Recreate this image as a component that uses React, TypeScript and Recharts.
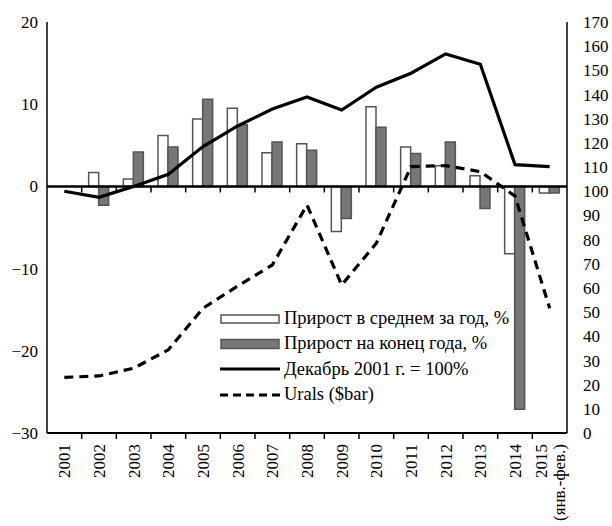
import React from 'react';
import { ComposedChart, Bar, Line, XAxis, YAxis, ReferenceLine, Legend } from 'recharts';

const years = ['2001', '2002', '2003', '2004', '2005', '2006', '2007', '2008', '2009', '2010', '2011', '2012', '2013', '2014', '2015 (янв.-фев.)'];
const avgGrowth = [null, 1.7, 0.9, 6.2, 8.2, 9.5, 4.1, 5.2, -5.5, 9.7, 4.8, 2.5, 1.3, -8.2, -0.8];
const endGrowth = [null, -2.3, 4.2, 4.8, 10.6, 7.5, 5.4, 4.4, -3.9, 7.2, 4.0, 5.4, -2.7, -27.1, -0.8];
const indexDec2001 = [100, 97.5, 102, 107, 118.5, 127, 134, 139, 133.6, 143, 148.8, 156.8, 152.5, 111, 110.2];
const urals = [23, 23.6, 26.8, 34.4, 51.6, 60.8, 69.5, 94.3, 61.2, 78.5, 110.2, 110.6, 108.1, 98, 51.6];
const leftTicks = [-30, -20, -10, 0, 10, 20];
const rightTicks = [0, 10, 20, 30, 40, 50, 60, 70, 80, 90, 100, 110, 120, 130, 140, 150, 160, 170];

const seriesNames = {
  avg: 'Прирост в среднем за год, %',
  end: 'Прирост на конец  года, %',
  idx: 'Декабрь 2001 г. = 100%',
  urals: 'Urals ($bar)',
};

const data = years.map((y, i) => ({
  year: y,
  avg: avgGrowth[i],
  end: endGrowth[i],
  idx: indexDec2001[i],
  urals: urals[i],
}));

const FONT = '"Liberation Serif", "Times New Roman", serif';
const W = 612;
const H = 526;
const LEFT_W = 47;
const RIGHT_W = 45;
const BAND = (W - LEFT_W - RIGHT_W) / years.length;

const fmtMinus = (v: number) => (v < 0 ? '\u2212' + Math.abs(v) : String(v));

const XTick = (props: any) => {
  const { x, y, payload, index } = props;
  const lines = String(payload.value).split(' ');
  const lh = 18;
  return (
    <g transform={`translate(${x},${y})`}>
      {index > 0 && <line x1={-BAND / 2} x2={-BAND / 2} y1={0} y2={6} stroke="#000" strokeWidth={1.5} />}
      <text transform="rotate(-90)" textAnchor="end" fontSize={17} fontFamily={FONT} fill="#000">
        {lines.map((l, i) => (
          <tspan key={i} x={-11} y={(i - (lines.length - 1) / 2) * lh} dy="0.35em">
            {l}
          </tspan>
        ))}
      </text>
    </g>
  );
};

const ZeroLine = (p: any) => {
  const { x1, x2, y1 } = p;
  const n = years.length;
  const w = (x2 - x1) / n;
  return (
    <g>
      <line x1={x1} x2={x2} y1={y1} y2={y1} stroke="#000" strokeWidth={2.5} />
      {years.slice(1).map((_, i) => (
        <line key={i} x1={x1 + w * (i + 1)} x2={x1 + w * (i + 1)} y1={y1} y2={y1 + 6} stroke="#000" strokeWidth={1.5} />
      ))}
    </g>
  );
};

const LegendContent = () => {
  const rows = [
    { key: 'avg', kind: 'rectW' },
    { key: 'end', kind: 'rectG' },
    { key: 'idx', kind: 'solid' },
    { key: 'urals', kind: 'dash' },
  ];
  return (
    <div style={{ fontFamily: FONT, fontSize: 18.5, color: '#000' }}>
      {rows.map((r) => (
        <div key={r.key} style={{ display: 'flex', alignItems: 'center', height: 25.3, whiteSpace: 'nowrap' }}>
          <svg width={62} height={14} style={{ flex: 'none' }}>
            {r.kind === 'rectW' && <rect x={1} y={3} width={58} height={8} fill="#fff" stroke="#555" strokeWidth={1.5} />}
            {r.kind === 'rectG' && <rect x={1} y={2.5} width={58} height={9} fill="#777" stroke="#555" strokeWidth={1.5} />}
            {r.kind === 'solid' && <line x1={0} x2={60} y1={7} y2={7} stroke="#000" strokeWidth={3} />}
            {r.kind === 'dash' && <line x1={0} x2={60} y1={7} y2={7} stroke="#000" strokeWidth={3} strokeDasharray="8 5" />}
          </svg>
          <span style={{ marginLeft: 2 }}>{(seriesNames as any)[r.key]}</span>
        </div>
      ))}
    </div>
  );
};

export default function App() {
  return (
    <div style={{ position: 'absolute', left: 0, top: 0, width: W, height: H, background: '#fff' }}>
      <ComposedChart
        width={W}
        height={H}
        data={data}
        margin={{ top: 22, right: 0, bottom: 0, left: 0 }}
        barGap={0}
        style={{ fontFamily: FONT }}
      >
        <XAxis
          dataKey="year"
          xAxisId="x"
          height={93}
          interval={0}
          tickLine={false}
          tickSize={0}
          tickMargin={0}
          axisLine={{ stroke: '#000', strokeWidth: 2 }}
          tick={<XTick />}
        />
        <YAxis
          yAxisId="left"
          orientation="left"
          width={LEFT_W}
          domain={[-30, 20]}
          ticks={leftTicks}
          tickFormatter={fmtMinus}
          tickLine={false}
          tickSize={0}
          tickMargin={9}
          axisLine={{ stroke: '#000', strokeWidth: 1.5 }}
          tick={{ fill: '#000', fontSize: 17, fontFamily: FONT }}
          allowDataOverflow
        />
        <YAxis
          yAxisId="right"
          orientation="right"
          width={RIGHT_W}
          domain={[0, 170]}
          ticks={rightTicks}
          interval={0}
          tickLine={false}
          tickSize={0}
          tickMargin={16}
          axisLine={{ stroke: '#000', strokeWidth: 1.5 }}
          tick={{ fill: '#000', fontSize: 17, fontFamily: FONT, textAnchor: 'start' }}
          allowDataOverflow
        />
        <Bar xAxisId="x" yAxisId="left" dataKey="avg" name={seriesNames.avg} barSize={10} fill="#fff" stroke="#555" strokeWidth={1.5} isAnimationActive={false} />
        <Bar xAxisId="x" yAxisId="left" dataKey="end" name={seriesNames.end} barSize={10} fill="#777" stroke="#555" strokeWidth={1.5} isAnimationActive={false} />
        <ReferenceLine xAxisId="x" yAxisId="left" y={0} shape={ZeroLine} />
        <Line xAxisId="x" yAxisId="right" type="linear" dataKey="idx" name={seriesNames.idx} stroke="#000" strokeWidth={3.2} dot={false} activeDot={false} isAnimationActive={false} />
        <Line xAxisId="x" yAxisId="right" type="linear" dataKey="urals" name={seriesNames.urals} stroke="#000" strokeWidth={3.2} strokeDasharray="9 6" dot={false} activeDot={false} isAnimationActive={false} />
        <Legend
          layout="vertical"
          align="center"
          verticalAlign="middle"
          content={<LegendContent />}
          wrapperStyle={{ left: 220, top: 306, width: 330, height: 105 }}
        />
      </ComposedChart>
    </div>
  );
}
